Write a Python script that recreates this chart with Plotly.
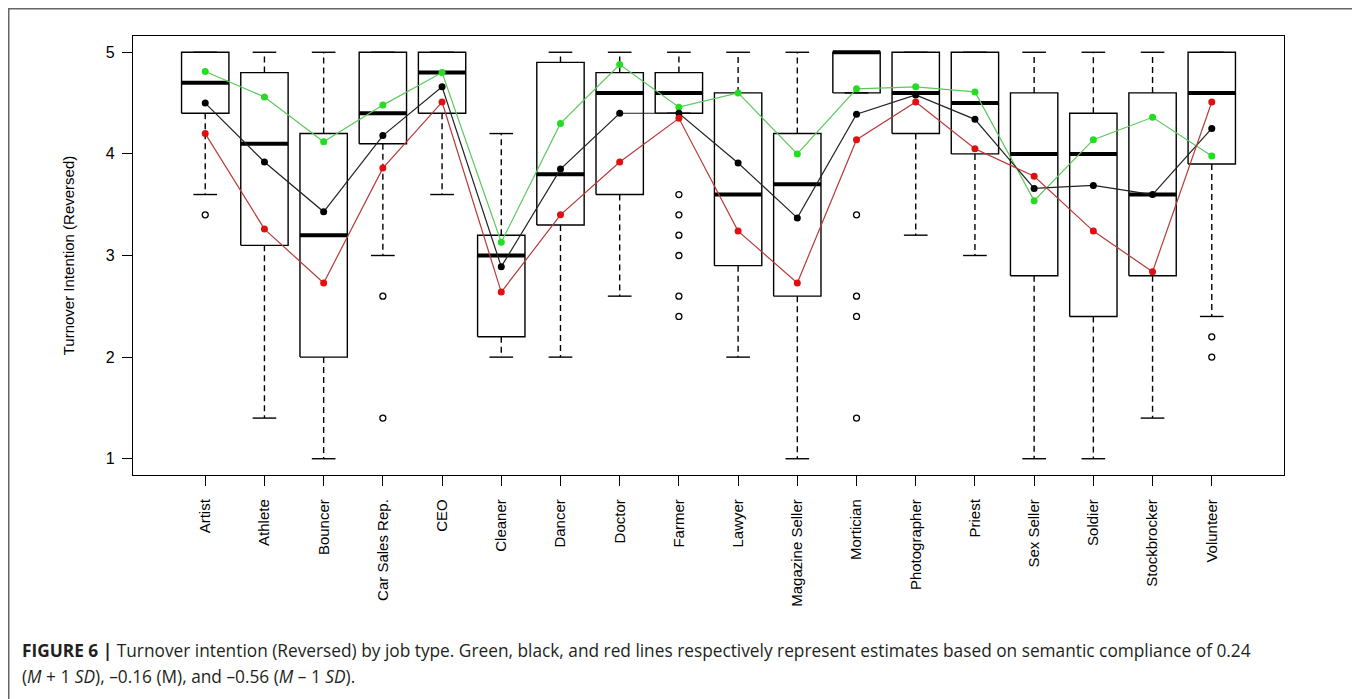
import plotly.graph_objects as go

# ---- data ----
jobs = ["Artist", "Athlete", "Bouncer", "Car Sales Rep.", "CEO", "Cleaner", "Dancer",
        "Doctor", "Farmer", "Lawyer", "Magazine Seller", "Mortician", "Photographer",
        "Priest", "Sex Seller", "Soldier", "Stockbrocker", "Volunteer"]

q1 = [4.4, 3.1, 2.0, 4.1, 4.4, 2.2, 3.3, 3.6, 4.4, 2.9, 2.6, 4.6, 4.2, 4.0, 2.8, 2.4, 2.8, 3.9]
median = [4.7, 4.1, 3.2, 4.4, 4.8, 3.0, 3.8, 4.6, 4.6, 3.6, 3.7, 5.0, 4.6, 4.5, 4.0, 4.0, 3.6, 4.6]
q3 = [5.0, 4.8, 4.2, 5.0, 5.0, 3.2, 4.9, 4.8, 4.8, 4.6, 4.2, 5.0, 5.0, 5.0, 4.6, 4.4, 4.6, 5.0]
whisker_low = [3.6, 1.4, 1.0, 3.0, 3.6, 2.0, 2.0, 2.6, 4.4, 2.0, 1.0, 4.6, 3.2, 3.0, 1.0, 1.0, 1.4, 2.4]
whisker_high = [5.0, 5.0, 5.0, 5.0, 5.0, 4.2, 5.0, 5.0, 5.0, 5.0, 5.0, 5.0, 5.0, 5.0, 5.0, 5.0, 5.0, 5.0]

outlier_job = ["Artist", "Car Sales Rep.", "Car Sales Rep.",
               "Farmer", "Farmer", "Farmer", "Farmer", "Farmer", "Farmer",
               "Mortician", "Mortician", "Mortician", "Mortician",
               "Volunteer", "Volunteer"]
outlier_val = [3.4, 2.6, 1.4,
               3.6, 3.4, 3.2, 3.0, 2.6, 2.4,
               3.4, 2.6, 2.4, 1.4,
               2.2, 2.0]

est_high = [4.81, 4.56, 4.12, 4.48, 4.80, 3.13, 4.30, 4.88, 4.46, 4.60, 4.00, 4.64, 4.66, 4.61, 3.54, 4.14, 4.36, 3.98]  # M + 1 SD (green)
est_mean = [4.50, 3.92, 3.43, 4.18, 4.66, 2.89, 3.85, 4.40, 4.40, 3.91, 3.37, 4.39, 4.58, 4.34, 3.66, 3.69, 3.60, 4.25]  # M (black)
est_low = [4.20, 3.26, 2.73, 3.86, 4.51, 2.64, 3.40, 3.92, 4.35, 3.24, 2.73, 4.14, 4.51, 4.05, 3.78, 3.24, 2.84, 4.51]   # M - 1 SD (red)

y_ticks = [1, 2, 3, 4, 5]

# ---- styling / layout (page body adds an 8px offset) ----
FONT = "Liberation Sans, Arial, sans-serif"
CAP_FONT = "Open Sans, Liberation Sans, Arial, sans-serif"
BOX_HALF = 0.4
CAP_HALF = 0.2
OFF = 8
W, H = 1360 - OFF, 699 - OFF
PLOT_L, PLOT_R, PLOT_T, PLOT_B = 133, 1284, 36, 475   # screen pixels of the plot area
ML, MT = PLOT_L - OFF, PLOT_T - OFF
MR, MB = W - (PLOT_R - OFF), H - (PLOT_B - OFF)
PW, PH = PLOT_R - PLOT_L, PLOT_B - PLOT_T


def sx(px):  # screen x -> paper
    return (px - PLOT_L) / PW


def sy(py):  # screen y -> paper
    return (PLOT_B - py) / PH


pos = list(range(1, len(jobs) + 1))
fig = go.Figure()

# boxes
bx, by = [], []
for p, a, b in zip(pos, q1, q3):
    bx += [p - BOX_HALF, p + BOX_HALF, p + BOX_HALF, p - BOX_HALF, p - BOX_HALF, None]
    by += [a, a, b, b, a, None]
fig.add_trace(go.Scatter(x=bx, y=by, mode="lines", line=dict(color="black", width=1.4),
                         hoverinfo="skip", showlegend=False))

# whiskers (dashed)
wx, wy = [], []
for p, a, b, lo, hi in zip(pos, q1, q3, whisker_low, whisker_high):
    wx += [p, p, None, p, p, None]
    wy += [a, lo, None, b, hi, None]
fig.add_trace(go.Scatter(x=wx, y=wy, mode="lines", line=dict(color="black", width=1.4, dash="6px,4px"),
                         hoverinfo="skip", showlegend=False))

# whisker caps
cx, cy = [], []
for p, lo, hi in zip(pos, whisker_low, whisker_high):
    cx += [p - CAP_HALF, p + CAP_HALF, None, p - CAP_HALF, p + CAP_HALF, None]
    cy += [lo, lo, None, hi, hi, None]
fig.add_trace(go.Scatter(x=cx, y=cy, mode="lines", line=dict(color="black", width=1.4),
                         hoverinfo="skip", showlegend=False))

# medians
mx, my = [], []
for p, m in zip(pos, median):
    mx += [p - BOX_HALF, p + BOX_HALF, None]
    my += [m, m, None]
fig.add_trace(go.Scatter(x=mx, y=my, mode="lines", line=dict(color="black", width=4),
                         hoverinfo="skip", showlegend=False))

# outliers
fig.add_trace(go.Scatter(x=[jobs.index(j) + 1 for j in outlier_job], y=outlier_val, mode="markers",
                         marker=dict(symbol="circle-open", size=6, color="black", line=dict(width=1.3)),
                         showlegend=False))

# estimate lines
for vals, lc, mc, name in [(est_high, "#5cc85c", "#22dd22", "M + 1 SD"),
                           (est_mean, "#222222", "#000000", "M"),
                           (est_low, "#b83a3a", "#e01010", "M - 1 SD")]:
    fig.add_trace(go.Scatter(x=pos, y=vals, mode="lines+markers", name=name,
                             line=dict(color=lc, width=1.2),
                             marker=dict(color=mc, size=7), showlegend=False))

fig.update_layout(
    width=W, height=H,
    margin=dict(l=ML, r=MR, t=MT, b=MB, pad=0),
    paper_bgcolor="white", plot_bgcolor="white",
    font=dict(family=FONT, color="black", size=15),
    xaxis=dict(range=[-0.22, 19.22], tickmode="array", tickvals=pos, ticktext=jobs,
               tickangle=-90, ticks="outside", ticklen=10, tickwidth=1.2, tickcolor="black",
               showline=True, linecolor="black", linewidth=1.4, mirror=True,
               showgrid=False, zeroline=False, ticklabelstandoff=7,
               tickfont=dict(family=FONT, size=15, color="black")),
    yaxis=dict(range=[0.84, 5.16], tickmode="array", tickvals=y_ticks,
               ticks="outside", ticklen=10, tickwidth=1.2, tickcolor="black",
               showline=True, linecolor="black", linewidth=1.4, mirror=True,
               showgrid=False, zeroline=False, ticklabelstandoff=4,
               tickfont=dict(family=FONT, size=16, color="black"),
               title=dict(text="Turnover Intention (Reversed)", standoff=27,
                          font=dict(family=FONT, size=15, color="black"))),
    shapes=[dict(type="rect", xref="paper", yref="paper",
                 x0=sx(8.75), x1=sx(1355.5),
                 y0=sy(730), y1=sy(8.75),
                 line=dict(color="#666666", width=1.5), fillcolor="rgba(0,0,0,0)", layer="below")],
    annotations=[
        dict(xref="paper", yref="paper", x=sx(20), y=sy(650),
             xanchor="left", yanchor="middle", showarrow=False,
             font=dict(family=CAP_FONT, size=17.3, color="#231f20"),
             text="<b>FIGURE 6 |</b> Turnover intention (Reversed) by job type. Green, black, and red lines "
                  "respectively represent estimates based on semantic compliance of 0.24"),
        dict(xref="paper", yref="paper", x=sx(20), y=sy(676),
             xanchor="left", yanchor="middle", showarrow=False,
             font=dict(family=CAP_FONT, size=17.3, color="#231f20"),
             text="(<i>M</i> + 1 <i>SD</i>), –0.16 (M), and –0.56 (<i>M</i> – 1 <i>SD</i>)."),
    ],
)

fig.write_html("out.html")
